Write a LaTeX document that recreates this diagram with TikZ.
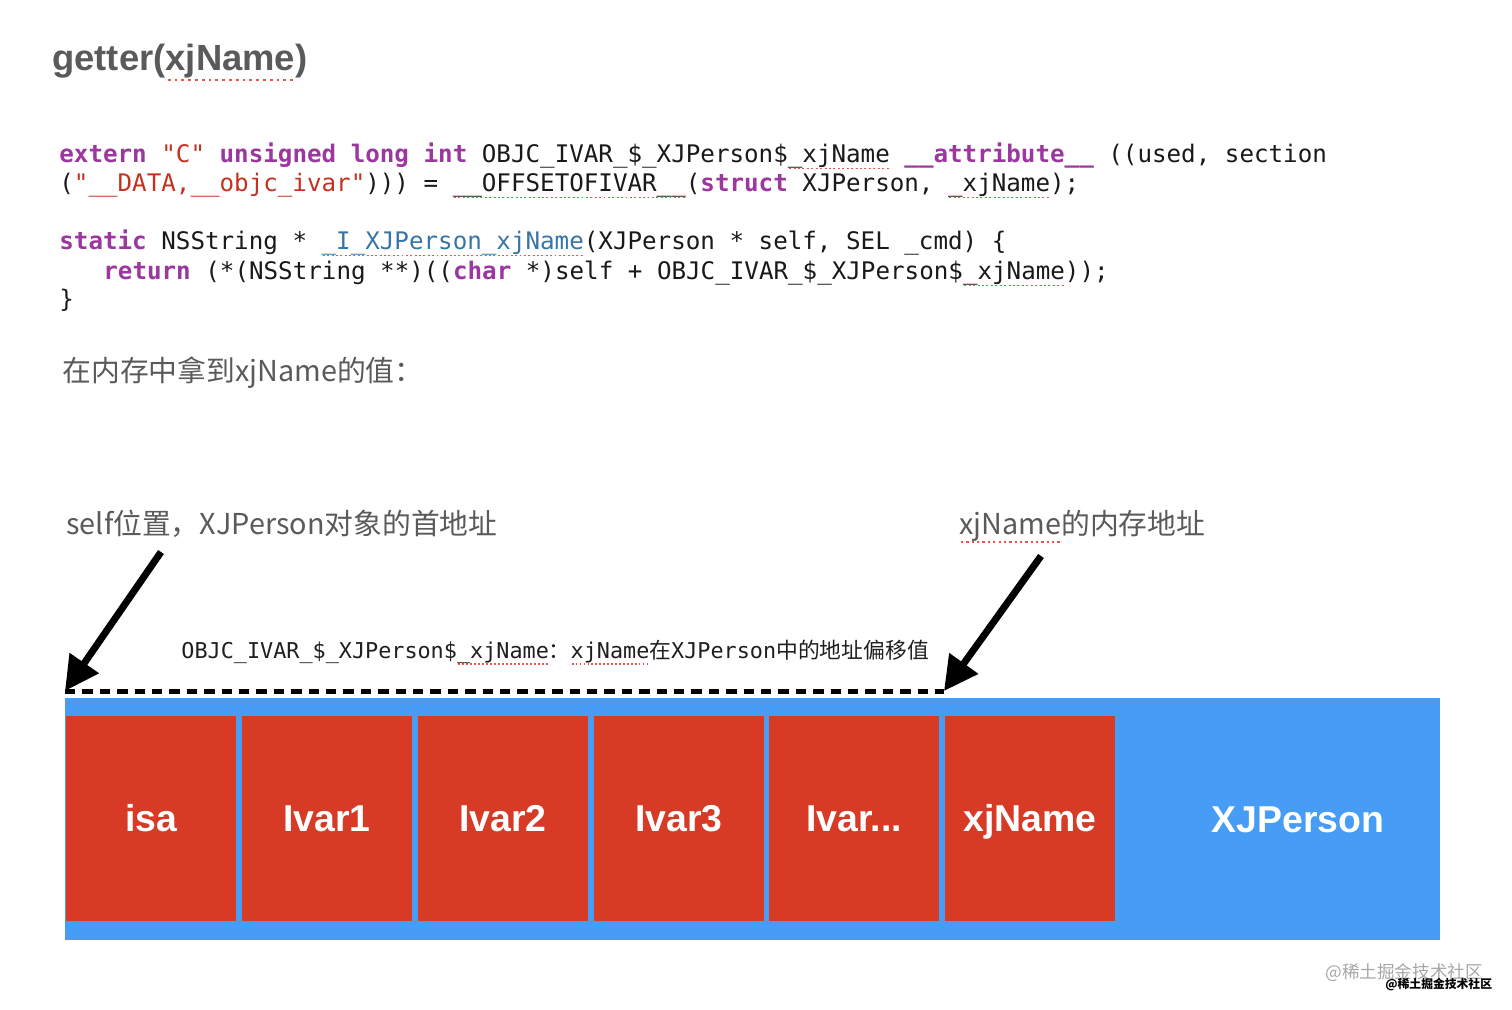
\documentclass[tikz,border=0pt]{standalone}
\usepackage{fontspec}
\setmainfont{Liberation Sans}
\newfontfamily\cjk{Noto Sans CJK SC}
\newfontfamily\codefont{DejaVu Sans Mono}
\usetikzlibrary{arrows.meta}
\definecolor{kwc}{HTML}{9B379F}
\definecolor{strc}{HTML}{C4311E}
\definecolor{fnc}{HTML}{3A74A6}
\definecolor{headc}{HTML}{5A5A5C}
\definecolor{redbox}{HTML}{D73B25}
\definecolor{bluebox}{HTML}{479DF5}
\definecolor{spellred}{HTML}{E8554A}
\newcommand\kw[1]{{\bfseries\color{kwc}#1}}
\newcommand\str[1]{{\color{strc}#1}}
\newcommand\fn[1]{{\color{fnc}#1}}
\newsavebox\splbox
\newcommand\spl[1]{\sbox\splbox{#1}\leavevmode\rlap{\lower0.3em\hbox to\wd\splbox{\color{spellred}\xleaders\hbox{\kern0.05em\rule{0.08em}{0.05em}\kern0.05em}\hfill}}\usebox\splbox}
\begin{document}
\begin{tikzpicture}[x=0.5pt,y=-0.5pt,
  codeline/.style={anchor=base west,inner sep=0pt,font=\codefont\fontsize{12.1pt}{14pt}\selectfont,text=black!90},
  headtext/.style={anchor=base west,inner sep=0pt,text=headc},
  cell/.style={fill=redbox,draw=none,minimum width=85pt,minimum height=102.5pt,inner sep=0pt,text=white,text height=13.4pt,text depth=0pt,font=\bfseries\fontsize{18.7pt}{20pt}\selectfont},
  bigarrow/.style={line width=3.5pt,-{Triangle[length=17pt,width=17pt]}},
  offsetline/.style={line width=2.5pt,dash pattern=on 5.2pt off 3.5pt}]
\useasboundingbox (0,0) rectangle (1512,1009);
% title
\node[headtext,font=\bfseries\fontsize{18.2pt}{20pt}\selectfont] (title) at (52,70) {getter(\spl{xjName})};
% code
\node[codeline] (c1) at (59,162) {\kw{extern} \str{"C"} \kw{unsigned} \kw{long} \kw{int} OBJC\_IVAR\_\$\_XJPerson\$\spl{\_xjName} \kw{\_\_attribute\_\_} ((used, section};
\node[codeline] (c2) at (59,191) {(\str{"\_\_DATA,\_\_objc\_ivar"}))) = \spl{\_\_OFFSETOFIVAR\_\_}(\kw{struct} XJPerson, \spl{\_xjName});};
\node[codeline] (c3) at (59,249) {\kw{static} NSString * \fn{\spl{\_I\_XJPerson\_xjName}}(XJPerson * self, SEL \_cmd) \{};
\node[codeline] (c4) at (103,279) {\kw{return} (*(NSString **)((\kw{char} *)self + OBJC\_IVAR\_\$\_XJPerson\$\spl{\_xjName}));};
\node[codeline] (c5) at (59,307) {\}};
% chinese headings
\node[headtext,font=\cjk\fontsize{14.4pt}{16pt}\selectfont] (memo) at (62,381) {在内存中拿到xjName的值：};
\node[headtext,font=\cjk\fontsize{14.4pt}{16pt}\selectfont] (selflbl) at (66,534) {self位置，XJPerson对象的首地址};
\node[headtext,font=\cjk\fontsize{14.4pt}{16pt}\selectfont] (addrlbl) at (959,534) {\spl{xjName}的内存地址};
% offset label
\node[anchor=base west,inner sep=0pt,font=\codefont\fontsize{10.9pt}{12pt}\selectfont,text=black!88] (offlbl) at (181,658)
  {OBJC\_IVAR\_\$\_XJPerson\$\spl{\_xjName}{\cjk ：}\spl{xjName}{\cjk 在}XJPerson{\cjk 中的地址偏移值}};
% memory blocks
\node[fill=bluebox,minimum width=687.5pt,minimum height=121pt,inner sep=0pt] (person) at (752.5,819) {};
\node[cell] (isa) at (151,818.5) {isa};
\node[cell] (ivar1) at (327,818.5) {Ivar1};
\node[cell] (ivar2) at (503,818.5) {Ivar2};
\node[cell] (ivar3) at (679,818.5) {Ivar3};
\node[cell] (ivarn) at (854,818.5) {Ivar...};
\node[cell] (xjname) at (1030,818.5) {xjName};
\node[text=white,text height=13.4pt,text depth=0pt,font=\bfseries\fontsize{18.7pt}{20pt}\selectfont,inner sep=0pt] (personlbl) at (1298,819) {XJPerson};
% offset dashed line
\coordinate (dL) at (65,691);
\coordinate (dR) at (944,691);
\draw[offsetline] (dL) -- (dR);
% arrows
\coordinate (aL) at (161,552);
\coordinate (aR) at (1041,556);
\draw[bigarrow] (aL) -- (dL);
\draw[bigarrow] (aR) -- (dR);
% watermark
\node[anchor=base west,inner sep=0pt,text=black!35,font=\cjk\fontsize{8.8pt}{10pt}\selectfont] (wm1) at (1325,978) {@稀土掘金技术社区};
\node[anchor=base west,inner sep=0pt,text=black,font=\cjk\bfseries\fontsize{5.9pt}{7pt}\selectfont] (wm2) at (1385,988) {@稀土掘金技术社区};
\end{tikzpicture}
\end{document}
